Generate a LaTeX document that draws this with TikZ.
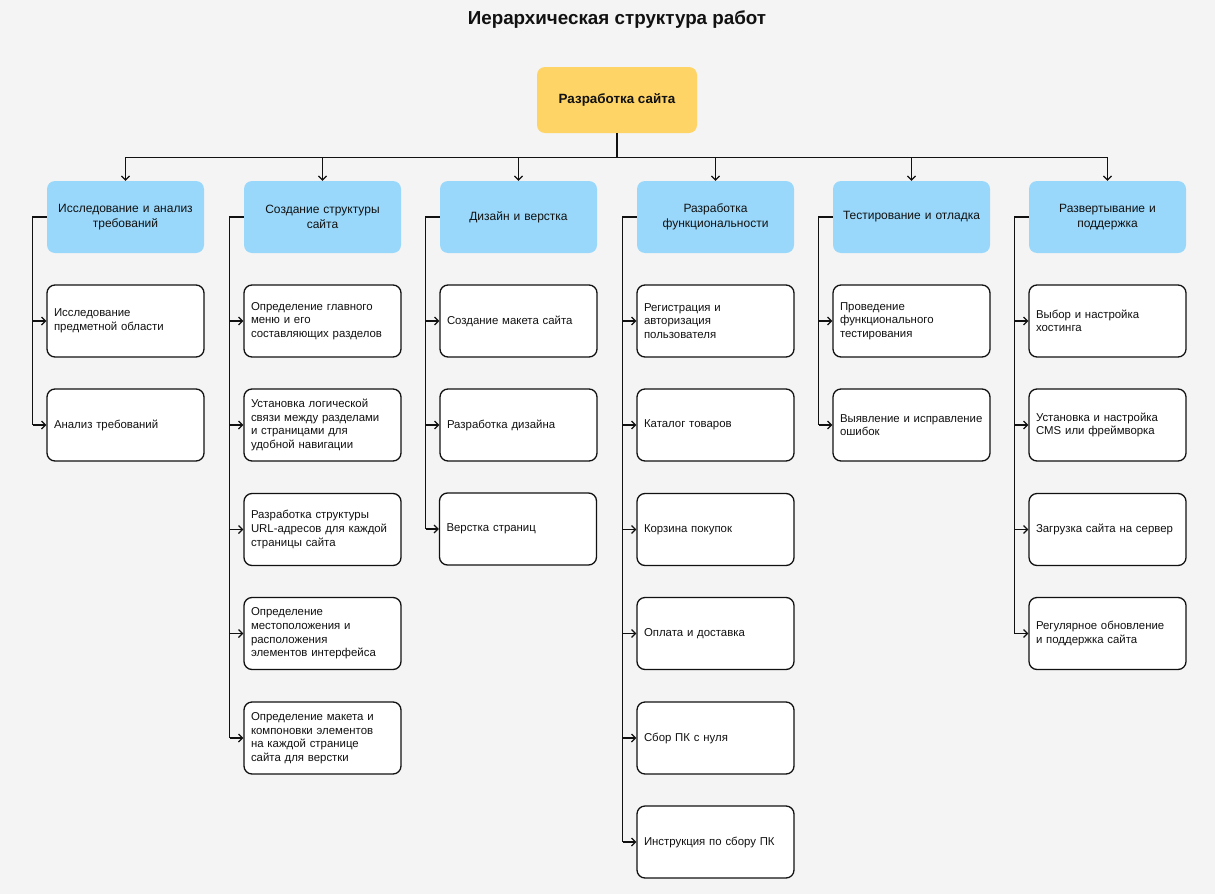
\documentclass[tikz,border=0pt]{standalone}
\usepackage{fontspec}
\setmainfont{Liberation Sans}
\usetikzlibrary{arrows.meta}
\definecolor{bg}{HTML}{F4F4F4}
\definecolor{rootfill}{HTML}{FFD466}
\definecolor{catfill}{HTML}{9AD8FB}
\definecolor{ink}{HTML}{111111}
\begin{document}
\begin{tikzpicture}[x=1pt,y=-1pt,
  rootbox/.style={fill=rootfill,rounded corners=8pt,minimum width=160pt,minimum height=66pt,
    font=\fontsize{13.4}{16}\selectfont\bfseries,text=ink,align=center},
  catbox/.style={fill=catfill,rounded corners=8pt,minimum width=157pt,minimum height=72pt,
    font=\fontsize{12}{15}\selectfont,text=ink,align=center,text width=147pt,inner sep=5pt},
  taskbox/.style={fill=white,draw=ink,line width=1.3pt,rounded corners=8pt,minimum width=157pt,
    minimum height=72pt,font=\fontsize{11.4}{13.6}\selectfont,text=ink,align=left,
    text width=143pt,inner xsep=7pt,inner ysep=4pt},
  link/.style={draw=ink,line width=1.2pt},
  arr/.style={link,-{Straight Barb[length=4pt,width=8pt,line width=1.2pt]}},
]
\useasboundingbox (0,0) rectangle (1215,894);
\fill[bg] (0,0) rectangle (1215,894);

\node[font=\fontsize{18.8}{22}\selectfont\bfseries,text=ink] (title) at (617,20) {Иерархическая структура работ};

\node[rootbox] (root) at (617,100) {Разработка сайта};

% categories
\node[catbox] (cat1) at (125.5,217) {Исследование и анализ\\требований};
\node[catbox] (cat2) at (322.5,217) {Создание структуры\\сайта};
\node[catbox] (cat3) at (518.5,217) {Дизайн и верстка};
\node[catbox] (cat4) at (715.5,217) {Разработка\\функциональности};
\node[catbox] (cat5) at (911.5,217) {Тестирование и отладка};
\node[catbox] (cat6) at (1107.5,217) {Развертывание и\\поддержка};

% column 1
\node[taskbox] (t11) at (125.5,321) {Исследование\\предметной области};
\node[taskbox] (t12) at (125.5,425) {Анализ требований};
% column 2
\node[taskbox] (t21) at (322.5,321) {Определение главного\\меню и его\\составляющих разделов};
\node[taskbox] (t22) at (322.5,425) {Установка логической\\связи между разделами\\и страницами для\\удобной навигации};
\node[taskbox] (t23) at (322.5,529.5) {Разработка структуры\\URL-адресов для каждой\\страницы сайта};
\node[taskbox] (t24) at (322.5,633.5) {Определение\\местоположения и\\расположения\\элементов интерфейса};
\node[taskbox] (t25) at (322.5,738) {Определение макета и\\компоновки элементов\\на каждой странице\\сайта для верстки};
% column 3
\node[taskbox] (t31) at (518.5,321) {Создание макета сайта};
\node[taskbox] (t32) at (518.5,425) {Разработка дизайна};
\node[taskbox] (t33) at (518,529) {Верстка страниц};
% column 4
\node[taskbox] (t41) at (715.5,321) {Регистрация и\\авторизация\\пользователя};
\node[taskbox] (t42) at (715.5,425) {Каталог товаров};
\node[taskbox] (t43) at (715.5,529.5) {Корзина покупок};
\node[taskbox] (t44) at (715.5,633.5) {Оплата и доставка};
\node[taskbox] (t45) at (715.5,738) {Сбор ПК с нуля};
\node[taskbox] (t46) at (715.5,842) {Инструкция по сбору ПК};
% column 5
\node[taskbox] (t51) at (911.5,321) {Проведение\\функционального\\тестирования};
\node[taskbox] (t52) at (911.5,425) {Выявление и исправление\\ошибок};
% column 6
\node[taskbox] (t61) at (1107.5,321) {Выбор и настройка\\хостинга};
\node[taskbox] (t62) at (1107.5,425) {Установка и настройка\\CMS или фреймворка};
\node[taskbox] (t63) at (1107.5,529.5) {Загрузка сайта на сервер};
\node[taskbox] (t64) at (1107.5,633.5) {Регулярное обновление\\и поддержка сайта};

% root stem and horizontal bus
\draw[link] (root.south) -- ++(0,24) coordinate (bus);
\draw[link] (cat1.north |- bus) -- (cat6.north |- bus);
\foreach \c in {1,...,6}
  \draw[arr] (cat\c.north |- bus) -- (cat\c.north);

% vertical spine of each column, then one arrow per task
\foreach \c/\n in {1/2,2/5,3/3,4/6,5/2,6/4}{
  \path (cat\c.west) ++(-14,0) coordinate (s\c);
  \draw[link] (cat\c.west) -- (s\c) -- (s\c |- t\c\n.west);
  \foreach \k in {1,...,\n}
    \draw[arr] (s\c |- t\c\k.west) -- (t\c\k.west);
}
\end{tikzpicture}
\end{document}
